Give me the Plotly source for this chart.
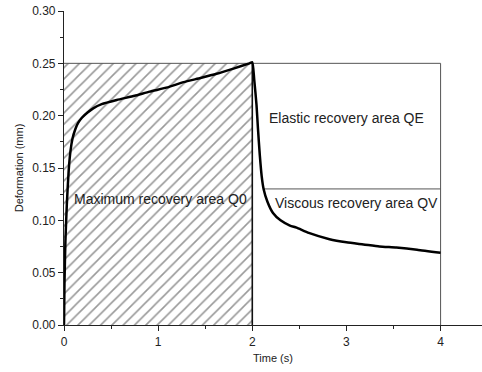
import plotly.graph_objects as go

# Creep phase (loading)
creep_t = [0, 0.005, 0.015, 0.03, 0.05, 0.07, 0.09, 0.12, 0.15, 0.19, 0.25, 0.31, 0.40,
           0.56, 0.75, 0.91, 1.10, 1.27, 1.45, 1.62, 1.80, 1.97, 2.00]
creep_d = [0, 0.04, 0.08, 0.115, 0.148, 0.167, 0.178, 0.187, 0.193, 0.198, 0.203, 0.207, 0.211,
           0.215, 0.219, 0.223, 0.227, 0.232, 0.236, 0.240, 0.245, 0.250, 0.251]
# Recovery phase (unloading)
rec_t = [2.00, 2.02, 2.045, 2.06, 2.08, 2.10, 2.12, 2.16, 2.22, 2.30, 2.40, 2.47, 2.60,
         2.82, 3.00, 3.18, 3.35, 3.53, 3.75, 4.00]
rec_d = [0.251, 0.235, 0.210, 0.188, 0.162, 0.142, 0.130, 0.118, 0.107, 0.100, 0.095, 0.093, 0.088,
         0.082, 0.079, 0.077, 0.075, 0.074, 0.072, 0.069]

# Region boundaries
load_end = 2.0
test_end = 4.0
max_def = 0.25
split_def = 0.13
split_start = 2.12

labels = ["Maximum recovery area Q0", "Elastic recovery area QE", "Viscous recovery area QV"]
label_x = [0.085, 3.0, 3.11]
label_y = [0.12, 0.198, 0.117]

fig = go.Figure()

# hatched Q0 area
fig.add_trace(go.Scatter(
    x=[0, load_end, load_end, 0, 0], y=[0, 0, max_def, max_def, 0],
    fill="toself", mode="lines", line=dict(width=0, color="rgba(0,0,0,0)"),
    fillcolor="white",
    fillpattern=dict(shape="/", size=8, solidity=0.2, fgcolor="#333333", bgcolor="white"),
    hoverinfo="skip", showlegend=False))

# gray outlines
fig.add_trace(go.Scatter(x=[0, test_end, test_end], y=[max_def, max_def, 0], mode="lines",
                         line=dict(color="#555555", width=1), showlegend=False, hoverinfo="skip"))
fig.add_trace(go.Scatter(x=[split_start, test_end], y=[split_def, split_def], mode="lines",
                         line=dict(color="#555555", width=1), showlegend=False, hoverinfo="skip"))
fig.add_trace(go.Scatter(x=[load_end, load_end], y=[0, max_def], mode="lines",
                         line=dict(color="#111111", width=1.6), showlegend=False, hoverinfo="skip"))

# curve
fig.add_trace(go.Scatter(x=creep_t + rec_t[1:], y=creep_d + rec_d[1:], mode="lines",
                         line=dict(color="black", width=2.5, shape="spline", smoothing=0.5),
                         showlegend=False))

for t, lx, ly in zip(labels, label_x, label_y):
    fig.add_annotation(x=lx, y=ly, text=t, showarrow=False,
                       xanchor="left" if lx < 1 else "center", yanchor="middle",
                       font=dict(size=14, color="#222222"))

fig.update_layout(
    width=482, height=372,
    margin=dict(l=64, r=0, t=11, b=47),
    paper_bgcolor="white", plot_bgcolor="white",
    font=dict(family="Liberation Sans, Arial, sans-serif", color="#222222"),
    showlegend=False,
)
fig.update_xaxes(
    range=[0, 4.44], dtick=1, tick0=0, ticks="outside", ticklen=5, tickwidth=1, tickcolor="#222",
    minor=dict(dtick=0.5, ticks="outside", ticklen=3, tickcolor="#222"),
    showline=True, linecolor="#222", linewidth=1.2, showgrid=False, zeroline=False,
    tickfont=dict(size=12), title=dict(text="Time (s)", font=dict(size=11), standoff=6),
)
fig.update_yaxes(
    range=[0, 0.30], dtick=0.05, tick0=0, tickformat=".2f", ticks="outside", ticklen=5,
    tickwidth=1, tickcolor="#222",
    minor=dict(dtick=0.025, ticks="outside", ticklen=3, tickcolor="#222"),
    showline=True, linecolor="#222", linewidth=1.2, showgrid=False, zeroline=False,
    tickfont=dict(size=12), title=dict(text="Deformation (mm)", font=dict(size=11), standoff=6),
)

fig.write_html("out.html")
